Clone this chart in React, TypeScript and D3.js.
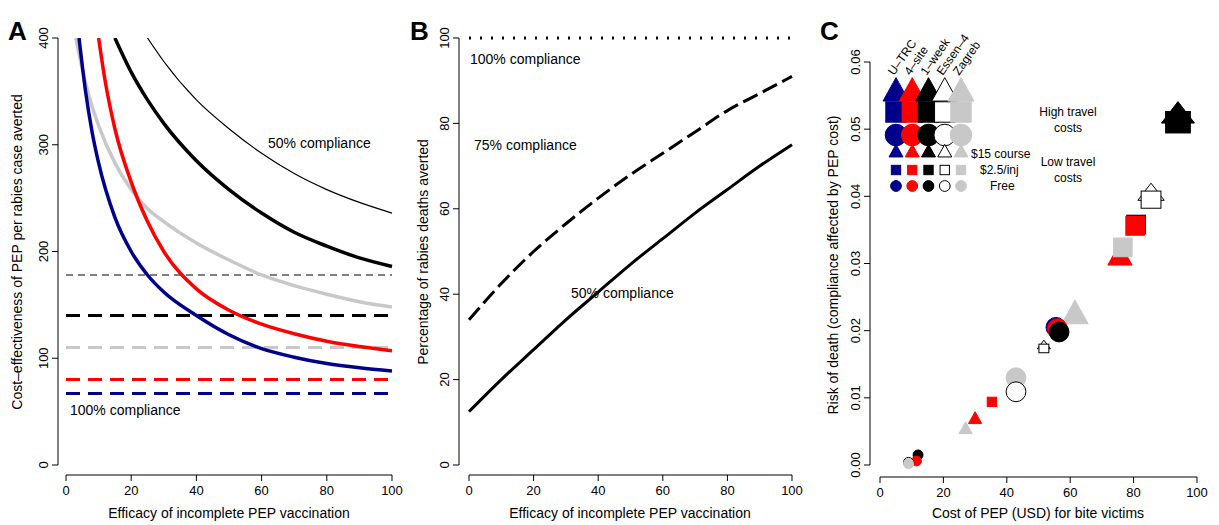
import * as d3 from "d3";

// ---- Panel A data (cost-effectiveness vs efficacy) ----
const effBlue = [4, 6, 8, 10, 15, 20, 25, 30, 40, 50, 60, 70, 80, 90, 100];
const blueA = [400, 350, 312, 283, 232, 200, 178, 162, 140, 122, 109, 101, 95, 91, 88];
const effRed = [10, 12, 15, 20, 25, 30, 40, 50, 60, 70, 80, 90, 100];
const redA = [400, 360, 315, 265, 228, 200, 165, 145, 132, 123, 116, 111, 107];
const effGrey = [3, 4, 6, 8, 10, 15, 20, 25, 30, 40, 50, 60, 70, 80, 90, 100];
const greyA = [400, 385, 358, 336, 318, 283, 258, 240, 228, 208, 192, 178, 168, 160, 153, 148];
const effThick = [15, 20, 25, 30, 40, 50, 60, 70, 80, 90, 100];
const thickA = [400, 368, 342, 320, 285, 258, 236, 218, 205, 194, 186];
const effThin = [25, 30, 40, 50, 60, 70, 80, 90, 100];
const thinA = [400, 378, 342, 315, 292, 273, 258, 246, 236];
const hlines = [
  { v: 178, c: "#000", w: 1.2 },
  { v: 140, c: "#000", w: 3 },
  { v: 110, c: "#c8c8c8", w: 3 },
  { v: 80, c: "#ff0000", w: 3 },
  { v: 67, c: "#00008b", w: 3 },
];

// ---- Panel B data (% deaths averted) ----
const effB = [0, 10, 20, 30, 40, 50, 60, 70, 80, 90, 100];
const c75 = [34, 42.5, 50, 56.5, 62.5, 68, 73, 78, 83, 87, 91];
const c50 = [12.5, 20, 27, 34, 40.5, 47, 53, 59, 64.5, 70, 75];
const c100 = [100, 100, 100, 100, 100, 100, 100, 100, 100, 100, 100];

// ---- Panel C data ----
const NAVY = "#00008b";
const GREY = "#c8c8c8";
const cols = [NAVY, "#ff0000", "#000000", "#ffffff", GREY];
const regimens = ["U\u2013TRC", "4\u2013site", "1\u2013week", "Essen\u20134", "Zagreb"];
const ptCost = [94, 85.5, 80.8, 80.5, 75.7, 76.6, 61.5, 55.5, 56, 56.5, 51.7, 42.9, 42.9, 35.3, 30, 27, 12, 11.5, 9, 9];
const ptRisk = [0.0514, 0.0398, 0.0358, 0.0356, 0.0313, 0.0324, 0.0227, 0.0205, 0.0203, 0.0198, 0.0175, 0.013, 0.0109, 0.0094, 0.007, 0.0055, 0.0015, 0.0006, 0.0004, 0.0002];
const ptCol = [2, 3, 0, 1, 1, 4, 4, 0, 1, 2, 3, 4, 3, 1, 1, 4, 2, 1, 3, 4];
const ptShape = ["house", "house", "sq", "sq", "tri", "sq", "tri", "circ", "circ", "circ", "house", "circ", "circ", "sq", "tri", "tri", "circ", "circ", "circ", "circ"];
const ptSize = [1.5, 1.2, 1, 1, 1.1, 1, 1.2, 1, 1, 1, 0.6, 1, 1, 0.5, 0.6, 0.6, 0.5, 0.5, 0.5, 0.5];

const FONT = "Liberation Sans, Arial, sans-serif";

function Shape(props: { x: number; y: number; s: number; kind: string; col: number }) {
  const { x, y, s, kind, col } = props;
  const fill = cols[col];
  const stroke = col === 3 ? "#000" : fill;
  const r = s / 2;
  const tri = `M${x - r},${y + r * 0.85}L${x},${y - r * 0.95}L${x + r},${y + r * 0.85}Z`;
  if (kind === "tri") return <path d={tri} fill={fill} stroke={stroke} strokeWidth={1} />;
  if (kind === "sq")
    return <rect x={x - r * 0.85} y={y - r * 0.85} width={r * 1.7} height={r * 1.7} fill={fill} stroke={stroke} />;
  if (kind === "circ") return <circle cx={x} cy={y} r={r * 0.9} fill={fill} stroke={stroke} />;
  // house = triangle over square
  return (
    <g>
      <path d={`M${x - r},${y + r * 0.2}L${x},${y - r * 1.1}L${x + r},${y + r * 0.2}Z`} fill={fill} stroke={stroke} />
      <rect x={x - r * 0.75} y={y - r * 0.5} width={r * 1.5} height={r * 1.3} fill={fill} stroke={stroke} />
    </g>
  );
}

function YAxis(props: { scale: d3.ScaleLinear<number, number>; x: number; ticks: number[]; fmt?: (v: number) => string }) {
  const { scale, x, ticks, fmt } = props;
  const f = fmt || ((v: number) => String(v));
  return (
    <g>
      <line x1={x} x2={x} y1={scale(ticks[0])} y2={scale(ticks[ticks.length - 1])} stroke="#000" />
      {ticks.map((t) => (
        <g key={t}>
          <line x1={x - 6} x2={x} y1={scale(t)} y2={scale(t)} stroke="#000" />
          <text transform={`translate(${x - 10},${scale(t)}) rotate(-90)`} textAnchor="middle" fontSize={13}>
            {f(t)}
          </text>
        </g>
      ))}
    </g>
  );
}

function XAxis(props: { scale: d3.ScaleLinear<number, number>; y: number; ticks: number[] }) {
  const { scale, y, ticks } = props;
  return (
    <g>
      <line x1={scale(ticks[0])} x2={scale(ticks[ticks.length - 1])} y1={y} y2={y} stroke="#000" />
      {ticks.map((t) => (
        <g key={t}>
          <line x1={scale(t)} x2={scale(t)} y1={y} y2={y + 6} stroke="#000" />
          <text x={scale(t)} y={y + 20} textAnchor="middle" fontSize={13}>
            {t}
          </text>
        </g>
      ))}
    </g>
  );
}

export default function App() {
  const xA = d3.scaleLinear().domain([0, 100]).range([66, 392]);
  const yA = d3.scaleLinear().domain([0, 400]).range([465, 38]);
  const xB = d3.scaleLinear().domain([0, 100]).range([469, 792]);
  const yB = d3.scaleLinear().domain([0, 100]).range([465, 38]);
  const xC = d3.scaleLinear().domain([0, 100]).range([880, 1197]);
  const yC = d3.scaleLinear().domain([0, 0.06]).range([465, 62]);

  const lineA = (xs: number[], vals: number[]) =>
    d3.line<number>().x((_, i) => xA(xs[i])).y((d) => yA(d)).curve(d3.curveMonotoneX)(vals) || "";
  const lineB = (vals: number[]) =>
    d3.line<number>().x((_, i) => xB(effB[i])).y((d) => yB(d)).curve(d3.curveMonotoneX)(vals) || "";

  const tick01 = [0, 20, 40, 60, 80, 100];
  const legX = d3.scaleLinear().domain([0, 4]).range([896, 961]);

  return (
    <svg width={1219} height={525} fontFamily={FONT} style={{ position: "absolute", left: 0, top: 0 }}>
      <defs>
        <clipPath id="clipA">
          <rect x={60} y={38} width={340} height={430} />
        </clipPath>
      </defs>
      {/* Panel A */}
      <text x={8} y={40} fontSize={26} fontWeight="bold">A</text>
      <g clipPath="url(#clipA)" fill="none">
        {hlines.map((h) => (
          <line key={h.v} x1={xA(0)} x2={xA(100)} y1={yA(h.v)} y2={yA(h.v)} stroke={h.c} strokeWidth={h.w} strokeDasharray={h.w > 2 ? "14,8" : "7,5"} />
        ))}
        <path d={lineA(effThin, thinA)} stroke="#000" strokeWidth={1.2} />
        <path d={lineA(effThick, thickA)} stroke="#000" strokeWidth={3.5} />
        <path d={lineA(effGrey, greyA)} stroke={GREY} strokeWidth={3.5} />
        <path d={lineA(effRed, redA)} stroke="#ff0000" strokeWidth={3.5} />
        <path d={lineA(effBlue, blueA)} stroke={NAVY} strokeWidth={3.5} />
      </g>
      <text x={268} y={148} fontSize={14}>50% compliance</text>
      <text x={70} y={415} fontSize={14}>100% compliance</text>
      <YAxis scale={yA} x={58} ticks={[0, 100, 200, 300, 400]} />
      <XAxis scale={xA} y={475} ticks={tick01} />
      <text x={229} y={518} textAnchor="middle" fontSize={14}>Efficacy of incomplete PEP vaccination</text>
      <text transform={`translate(22,252) rotate(-90)`} textAnchor="middle" fontSize={14}>
        Cost–effectiveness of PEP per rabies case averted
      </text>

      {/* Panel B */}
      <text x={410} y={40} fontSize={26} fontWeight="bold">B</text>
      <g fill="none">
        <path d={lineB(c100)} stroke="#000" strokeWidth={3} strokeDasharray="2,9" />
        <path d={lineB(c75)} stroke="#000" strokeWidth={3} strokeDasharray="16,6" />
        <path d={lineB(c50)} stroke="#000" strokeWidth={3} />
      </g>
      <text x={470} y={64} fontSize={14}>100% compliance</text>
      <text x={474} y={150} fontSize={14}>75% compliance</text>
      <text x={571} y={298} fontSize={14}>50% compliance</text>
      <YAxis scale={yB} x={459} ticks={tick01} />
      <XAxis scale={xB} y={475} ticks={tick01} />
      <text x={630} y={518} textAnchor="middle" fontSize={14}>Efficacy of incomplete PEP vaccination</text>
      <text transform={`translate(428,252) rotate(-90)`} textAnchor="middle" fontSize={14}>
        Percentage of rabies deaths averted
      </text>

      {/* Panel C */}
      <text x={820} y={40} fontSize={26} fontWeight="bold">C</text>
      <YAxis scale={yC} x={870} ticks={[0, 0.01, 0.02, 0.03, 0.04, 0.05, 0.06]} fmt={(v) => v.toFixed(2)} />
      <XAxis scale={xC} y={477} ticks={tick01} />
      <text x={1038} y={518} textAnchor="middle" fontSize={14}>Cost of PEP (USD) for bite victims</text>
      <text transform={`translate(838,265) rotate(-90)`} textAnchor="middle" fontSize={14}>
        Risk of death (compliance affected by PEP cost)
      </text>
      {ptCost.map((c, i) => (
        <Shape key={i} x={xC(c)} y={yC(ptRisk[i])} s={ptSize[i] * 22} kind={ptShape[i]} col={ptCol[i]} />
      ))}
      {/* legend */}
      {regimens.map((r, i) => (
        <g key={r}>
          <text transform={`translate(${legX(i) - 2},${76}) rotate(-55)`} fontSize={12}>{r}</text>
          <Shape x={legX(i)} y={90} s={26} kind="tri" col={i} />
          <Shape x={legX(i)} y={112} s={24} kind="sq" col={i} />
          <Shape x={legX(i)} y={135} s={24} kind="circ" col={i} />
          <Shape x={legX(i)} y={151} s={14} kind="tri" col={i} />
          <Shape x={legX(i)} y={170} s={11} kind="sq" col={i} />
          <Shape x={legX(i)} y={186} s={12} kind="circ" col={i} />
        </g>
      ))}
      <text x={971} y={158} fontSize={12}>$15 course</text>
      <text x={980} y={174} fontSize={12}>$2.5/inj</text>
      <text x={990} y={190} fontSize={12}>Free</text>
      <text x={1068} y={116} textAnchor="middle" fontSize={12}>High travel</text>
      <text x={1068} y={132} textAnchor="middle" fontSize={12}>costs</text>
      <text x={1068} y={166} textAnchor="middle" fontSize={12}>Low travel</text>
      <text x={1068} y={182} textAnchor="middle" fontSize={12}>costs</text>
    </svg>
  );
}
